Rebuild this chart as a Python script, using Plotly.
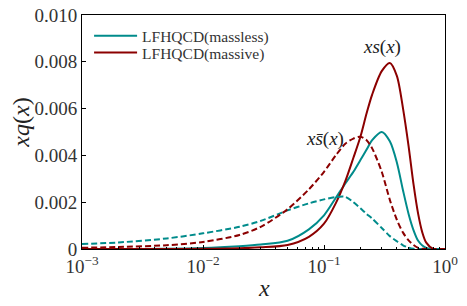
import plotly.graph_objects as go

# sampled x grid
x_vals = [0.001, 0.002, 0.005, 0.01, 0.02, 0.03, 0.05, 0.075, 0.1, 0.125, 0.15, 0.175,
          0.2, 0.225, 0.25, 0.3, 0.35, 0.4, 0.45, 0.5, 0.55, 0.6, 0.65, 0.7, 0.8, 0.9, 1.0]

# xs(x), massless
s_massless = [0.0, 0.0, 0.00001, 0.00004, 0.00012, 0.00019, 0.00035, 0.00084, 0.00144, 0.00218,
              0.0028, 0.0033, 0.0038, 0.00425, 0.00465, 0.0050, 0.0046, 0.0037, 0.0025, 0.0015,
              0.0008, 0.00035, 0.00015, 0.00005, 0.0, 0.0, 0.0]
# xs(x), massive
s_massive = [0.0, 0.0, 0.0, 0.00001, 0.00003, 0.00007, 0.00017, 0.00052, 0.00108, 0.00195,
             0.0029, 0.0039, 0.0048, 0.0058, 0.0066, 0.0076, 0.00795, 0.0074, 0.0060, 0.0044,
             0.00275, 0.0015, 0.0007, 0.00027, 0.0, 0.0, 0.0]
# x sbar(x), massless
sbar_massless = [0.00021, 0.00028, 0.00045, 0.00067, 0.00095, 0.0012, 0.00165, 0.00195, 0.00212, 0.00222,
                 0.00223, 0.0020, 0.00174, 0.0015, 0.0013, 0.0009, 0.00055, 0.00033, 0.00016, 0.00006,
                 0.00001, 0.0, 0.0, 0.0, 0.0, 0.0, 0.0]
# x sbar(x), massive
sbar_massive = [0.00005, 0.00009, 0.00016, 0.0003, 0.0006, 0.00095, 0.0017, 0.00255, 0.0033, 0.0040,
                0.0045, 0.00472, 0.0048, 0.00465, 0.0043, 0.0033, 0.0021, 0.00125, 0.0007, 0.00037,
                0.00017, 0.00005, 0.00001, 0.0, 0.0, 0.0, 0.0]

y_ticks = [0, 0.002, 0.004, 0.006, 0.008, 0.010]
y_ticktext = ["0", "0.002", "0.004", "0.006", "0.008", "0.010"]
x_ticks = [0.001, 0.01, 0.1, 1]
x_ticktext = ["10<sup>\u22123</sup>", "10<sup>\u22122</sup>", "10<sup>\u22121</sup>", "10<sup>0</sup>"]

TEAL = "#008b8b"
DRED = "#8b0000"
FONT = "Liberation Serif, Times New Roman, serif"

fig = go.Figure()
fig.add_trace(go.Scatter(x=x_vals, y=s_massless, mode="lines", name="LFHQCD(massless)", legend="legend",
                         line=dict(color=TEAL, width=2, shape="spline", smoothing=0.8)))
fig.add_trace(go.Scatter(x=x_vals, y=s_massive, mode="lines", name="LFHQCD(massive)", legend="legend2",
                         line=dict(color=DRED, width=2, shape="spline", smoothing=0.8)))
fig.add_trace(go.Scatter(x=x_vals, y=sbar_massless, mode="lines", showlegend=False,
                         line=dict(color=TEAL, width=2, dash="6px,3px", shape="spline", smoothing=0.8)))
fig.add_trace(go.Scatter(x=x_vals, y=sbar_massive, mode="lines", showlegend=False,
                         line=dict(color=DRED, width=2, dash="6px,3px", shape="spline", smoothing=0.8)))

minor_vals = [m * 10 ** k for k in (-3, -2, -1) for m in range(2, 10)]

legend_common = dict(x=0.0195, xanchor="left", yanchor="middle", bgcolor="rgba(0,0,0,0)",
                     font=dict(family=FONT, size=15.5, color="#333333"), itemwidth=43)

fig.update_layout(
    width=467, height=306,
    margin=dict(l=82, r=22, t=15, b=57, autoexpand=False),
    paper_bgcolor="white", plot_bgcolor="white",
    font=dict(family=FONT, color="#222222", size=17),
    showlegend=True,
    legend=dict(y=0.910, **legend_common),
    legend2=dict(y=0.838, **legend_common),
    xaxis=dict(type="log", range=[-3, 0], tickvals=x_ticks, ticktext=x_ticktext, automargin=False,
               ticks="inside", ticklen=4, tickcolor="black", showline=True, linecolor="black",
               linewidth=1, mirror=True, showgrid=False, zeroline=False, ticklabeloverflow="allow",
               tickfont=dict(family=FONT, size=19, color="#333333"),
               minor=dict(tickvals=minor_vals, ticks="inside", ticklen=2, tickcolor="black", showgrid=False)),
    yaxis=dict(range=[0, 0.010], tickvals=y_ticks, ticktext=y_ticktext, automargin=False,
               ticks="inside", ticklen=4, tickcolor="black", showline=True, linecolor="black",
               linewidth=1, mirror=True, showgrid=False, zeroline=False, ticklabeloverflow="allow",
               tickfont=dict(family=FONT, size=19, color="#333333")),
    annotations=[
        dict(x=0.5, y=-0.165, xref="paper", yref="paper", text="<i>x</i>", showarrow=False,
             xanchor="center", yanchor="middle",
             font=dict(family=FONT, size=24, color="#222222")),
        dict(x=-0.168, y=0.54, xref="paper", yref="paper", text="<i>xq</i>(<i>x</i>)", showarrow=False,
             textangle=-90, xanchor="center", yanchor="middle",
             font=dict(family=FONT, size=24, color="#222222")),
        dict(x=-0.523, y=0.00865, xref="x", yref="y", text="<i>xs</i>(<i>x</i>)", showarrow=False,
             font=dict(family=FONT, size=19, color="#222222")),
        dict(x=-0.995, y=0.0047, xref="x", yref="y", text="<i>xs\u0304</i>(<i>x</i>)", showarrow=False,
             font=dict(family=FONT, size=19, color="#222222")),
    ],
)

# remove the browser's default 8px body margin so the figure fills the window exactly
fig.write_html("out.html", config={"displayModeBar": False},
               post_script="document.body.style.margin='0';")
